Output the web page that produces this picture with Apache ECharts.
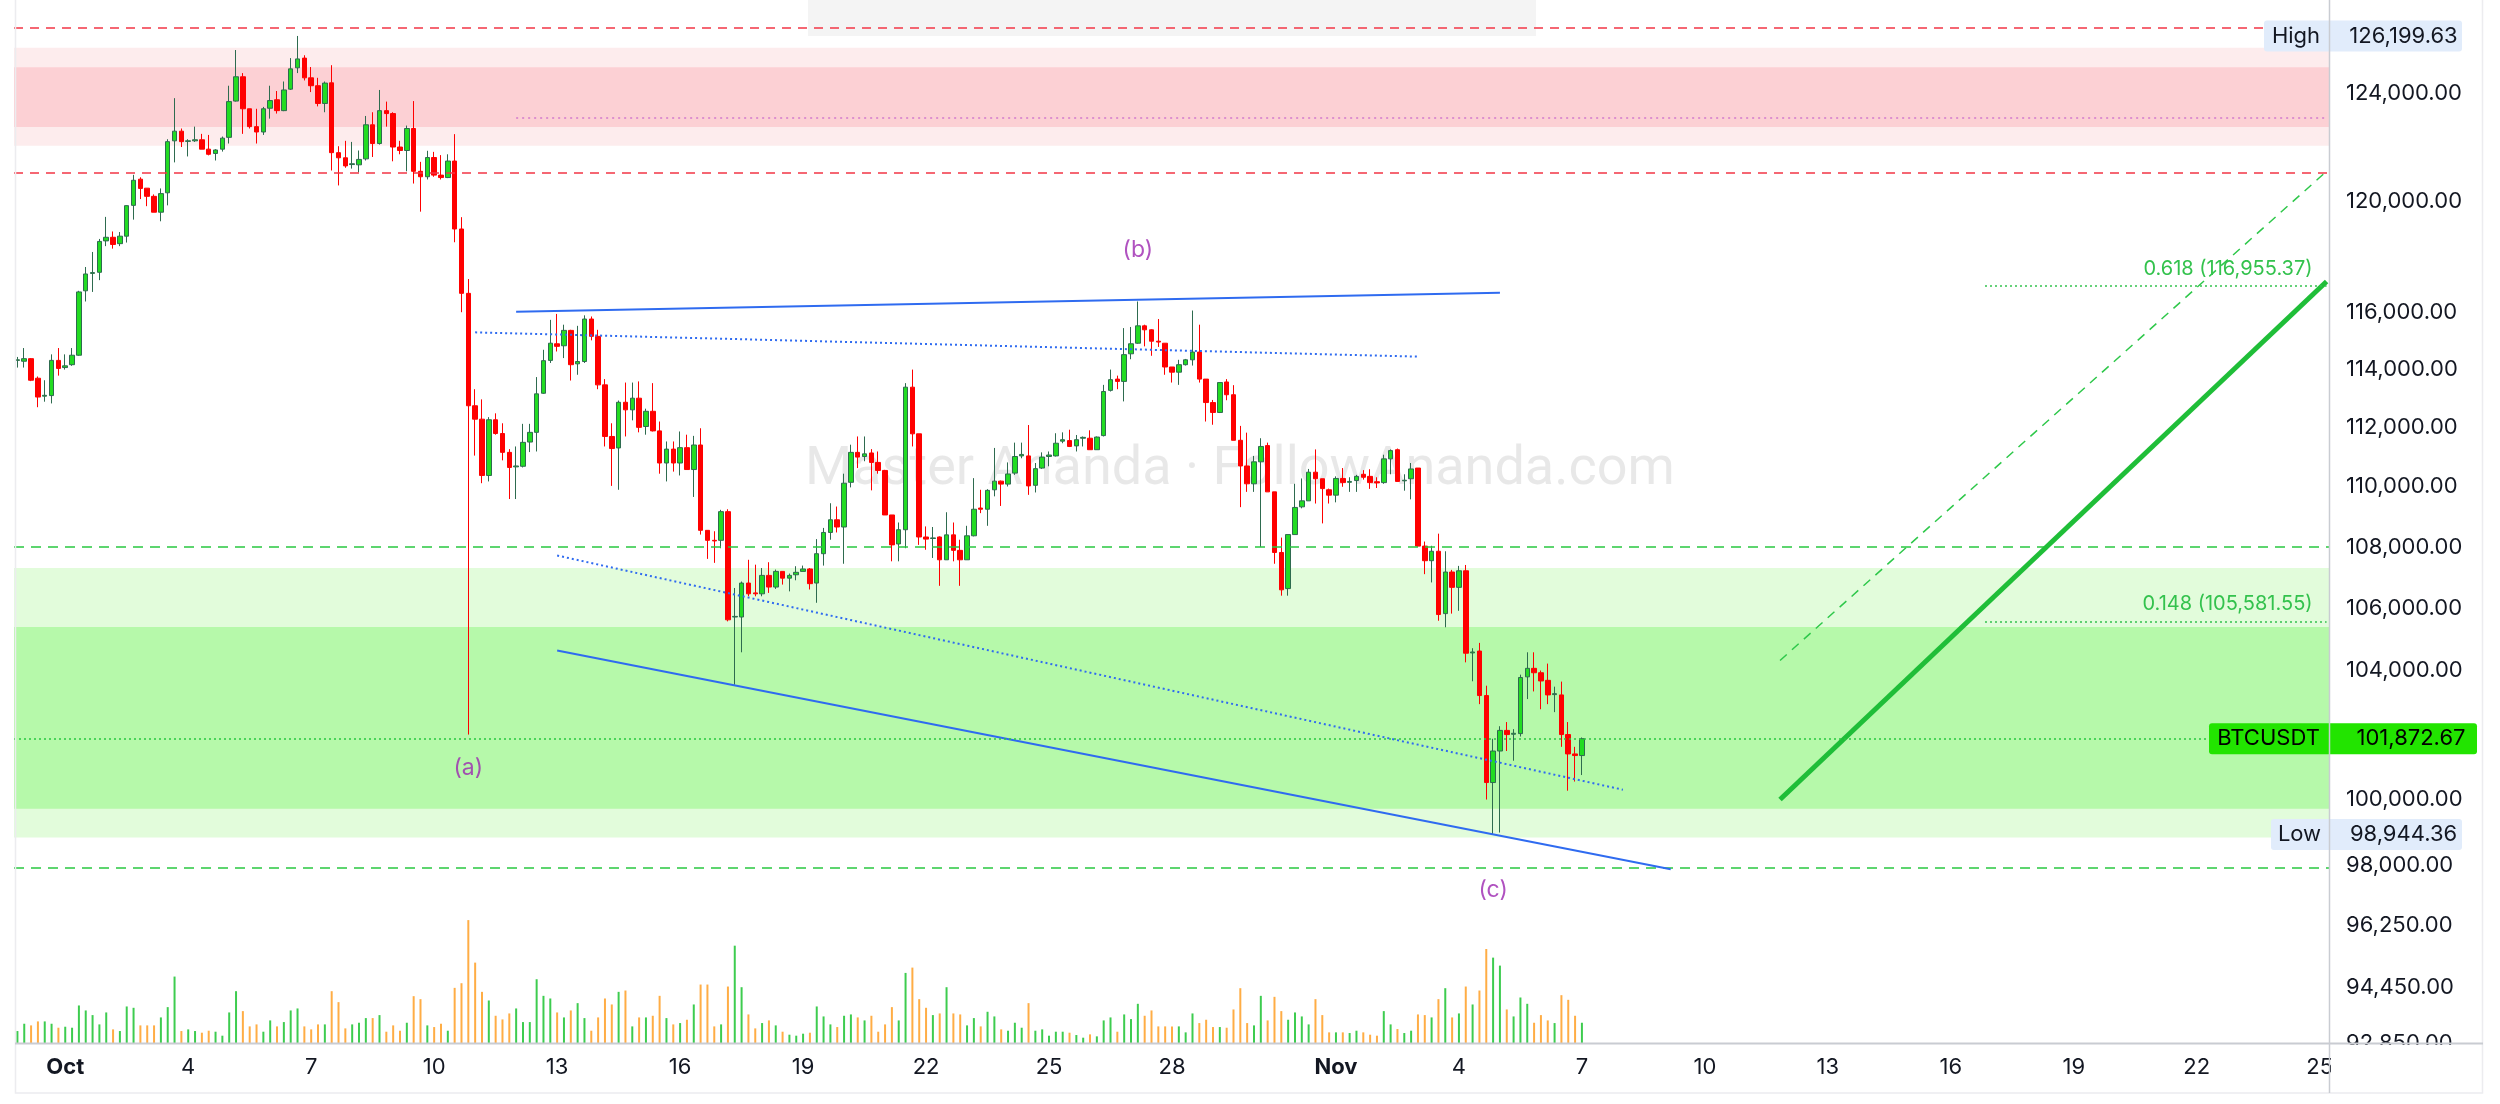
<!DOCTYPE html>
<html><head><meta charset="utf-8">
<script src="https://cdn.jsdelivr.net/npm/echarts@6/dist/echarts.min.js"></script>
<style>html,body{margin:0;padding:0;background:#fff}#c{width:2500px;height:1104px}</style>
</head><body><div id="c"></div>
<script>
// ---- time slots (4h candles), Sep 29 20:00 UTC .. Nov 25 ----
const startTime = Date.UTC(2025, 8, 29, 20);
const slotCount = 339;
function pad(n){return (n<10?'0':'')+n;}
const categories = [];
for (let i = 0; i < slotCount; i++) {
  const d = new Date(startTime + i * 4 * 3600e3);
  categories.push(pad(d.getUTCMonth()+1) + '-' + pad(d.getUTCDate()) + ' ' + pad(d.getUTCHours()));
}
const xTickDays = ['10-01','10-04','10-07','10-10','10-13','10-16','10-19','10-22','10-25','10-28',
  '11-01','11-04','11-07','11-10','11-13','11-16','11-19','11-22','11-25'];
const monthNames = {'10':'Oct','11':'Nov'};
const yTickValues = [124000,120000,116000,114000,112000,110000,108000,106000,104000,100000,98000,96250,94450,92850];

// ---- BTCUSDT 4h candles: [open, high, low, close] ----
const candles = [
[114320,114440,114070,114340],[114290,114750,114070,114380],[114380,114400,113600,113630],[113700,113760,112700,113050],
[113080,113630,112890,113110],[113100,114530,112830,114320],[114320,114750,113790,114040],[114070,114530,114000,114130],
[114170,114750,114130,114500],[114500,116770,114480,116730],[116770,117620,116390,117370],[117390,118160,116730,117420],
[117430,118630,117150,118540],[118560,119430,118370,118690],[118690,118900,118280,118430],[118460,118880,118370,118730],
[118730,119850,118500,119840],[119850,120970,119330,120770],[120810,120880,120080,120470],[120480,120480,119820,120180],
[120180,120250,119600,119600],[119600,120470,119270,120280],[120310,122290,119850,122200],[122230,123830,121430,122590],
[122590,122690,122000,122200],[122210,122290,121650,122230],[122230,122760,122190,122270],[122270,122490,121920,121920],
[121920,122450,121690,121730],[121760,121920,121500,121890],[121920,122390,121830,122330],[122360,124300,122130,123700],
[123720,125660,123700,124640],[124640,124780,122490,123430],[123430,123430,122690,122760],[122760,123430,122130,122560],
[122560,123500,122450,123430],[123450,124300,123060,123740],[123770,124100,123250,123360],[123360,124460,123340,124140],
[124170,125350,124140,124940],[124980,126199.63,124780,125320],[125350,125460,124500,124600],[124600,125010,124060,124300],
[124300,124600,123520,123630],[123630,124460,123300,124400],[124410,125080,121130,121790],[121790,122030,120580,121600],
[121600,122230,121230,121300],[121350,122190,121200,121380],[121340,121870,121060,121540],[121560,123160,121500,122830],
[122830,123300,121630,122130],[122130,124140,122090,123360],[123360,123700,122760,123250],[123250,123300,121470,122000],
[122000,122230,121730,121870],[121870,122800,121100,122690],[122690,123720,120650,121100],[121100,121450,119620,120900],
[120900,121860,120800,121610],[121610,121820,120900,120960],[120960,121700,120800,120870],[120870,121730,120850,121480],
[121480,122480,118510,118990],[118990,119420,116010,116680],[116680,117190,102000,112750],[112750,113320,111050,112290],
[112290,112970,110120,110380],[110380,112360,110180,112270],[112270,112490,111760,111800],[111800,112150,110890,111160],
[111160,111270,109590,110650],[110670,111360,109590,110700],[110690,112130,110650,111500],[111510,112130,111170,111840],
[111840,113740,111190,113160],[113180,114690,113160,114310],[114320,115740,114230,114920],[114900,115950,114630,114810],
[114830,115570,114400,115370],[115370,115390,113620,114170],[114200,115530,113820,114280],[114280,115900,114230,115770],
[115770,115860,115020,115160],[115160,115390,113320,113470],[113470,113670,111360,111700],[111700,112150,110030,111290],
[111310,112930,109900,112870],[112870,113550,111700,112610],[112610,113550,112250,113010],[113010,113590,111840,112010],
[112040,112650,111760,112560],[112560,113530,111870,111890],[111890,112210,110440,110800],[110800,111530,110180,111270],
[111270,111530,110510,110800],[110800,111870,110380,111320],[111320,111760,110580,110580],[110580,111720,109660,111410],
[111410,111980,108410,108550],[108550,108550,107610,108220],[108220,108520,107480,108200],[108220,109230,107960,109170],
[109170,109250,105580,105630],[105720,106660,103560,105740],[105720,106870,104590,106820],[106820,107580,106390,106470],
[106500,107420,106390,106470],[106470,107310,106390,107070],[107070,107500,106500,106690],[106690,107260,106630,107200],
[107200,107200,106770,106980],[106980,107130,106550,107070],[107090,107370,106910,107170],[107200,107390,107200,107280],
[107280,107310,106610,106800],[106820,108260,106180,107780],[107780,108630,107390,108480],[108480,109450,108240,108900],
[108900,109340,108480,108660],[108660,110440,107450,110120],[110150,111420,109980,111160],[111160,111700,110630,111000],
[111020,111700,110860,111110],[111140,111270,109880,110820],[110820,111190,110440,110550],[110550,110570,109060,109060],
[109060,109060,107530,108070],[108100,108810,107530,108570],[108570,113530,107960,113390],[113390,114000,111360,111790],
[111790,111790,108070,108330],[108330,108680,107910,108260],[108280,108660,107640,108300],[108330,108350,106730,107580],
[107580,109150,107580,108400],[108400,108810,107530,107890],[107890,108240,106730,107580],[107580,108700,107580,108370],
[108370,110290,108350,109250],[109290,109900,109120,109250],[109250,109920,108700,109880],[109900,111310,109680,110190],
[110190,110210,109360,110090],[110090,110820,110010,110430],[110460,111490,110400,111020],[111040,111490,110960,111090],
[111040,112090,109730,110030],[110050,110800,109810,110610],[110630,111160,110600,111000],[111020,111190,110690,111070],
[111040,111810,111020,111470],[111540,111840,111470,111590],[111560,111930,111340,111360],[111380,111750,111190,111590],
[111640,111700,111360,111670],[111640,111910,111250,111250],[111250,111700,111250,111680],[111730,113470,111700,113240],
[113280,114000,113240,113650],[113670,113790,113320,113590],[113590,115450,112900,114520],[114550,115490,114360,114900],
[114920,116390,114900,115530],[115530,115570,114810,115390],[115390,115410,114480,114990],[114990,115770,114790,114960],
[114920,114920,113820,114090],[114090,114090,113550,113910],[113910,114340,113470,114170],[114170,114370,114140,114340],
[114340,116070,114140,114610],[114610,115570,113550,113670],[113670,113670,112210,112860],[112860,112950,112100,112520],
[112520,113550,112500,113550],[113570,113670,112940,113130],[113130,113460,111570,111570],[111570,112060,109320,110700],
[110700,111830,109830,110100],[110100,111040,109830,110840],[110840,111640,108000,111360],[111390,111490,109830,109830],
[109830,109830,107450,107820],[107820,108310,106410,106600],[106640,108410,106410,108410],[108410,110100,108410,109310],
[109330,110280,109280,109530],[109530,110600,109530,110490],[110490,111260,109440,110270],[110270,110270,108780,109940],
[109900,109940,109440,109720],[109720,110350,109480,110280],[110280,110630,110000,110140],[110150,110320,109830,110180],
[110210,110400,109830,110350],[110420,110560,110240,110320],[110350,110590,109930,110140],[110170,110320,109960,110130],
[110140,111080,110100,110940],[110940,111260,110420,111220],[111250,111290,110180,110180],[110200,110420,109870,110220],
[110270,110800,109580,110600],[110630,110630,108000,108030],[108030,108180,107110,107550],[107550,108040,106840,107860],
[107860,108440,105600,105800],[105830,107860,105390,107180],[107180,107250,105830,106680],[106680,107380,105920,107220],
[107220,107410,104270,104560],[104570,104720,103670,104600],[104630,104890,102950,103220],[103220,103530,100000,100520],
[100520,101870,98944.36,101490],[101490,102260,99000,102130],[102130,102390,101490,102000],[102010,102170,101190,102040],
[102030,103880,101940,103790],[103810,104590,103110,104080],[104080,104590,103350,103940],[103940,104010,102790,103680],
[103700,104230,102950,103240],[103250,103500,102700,103280],[103240,103660,101620,102000],[102000,102390,100270,101400],
[101400,101620,100550,101350],[101350,101910,100750,101872.67]
];

// ---- volume per candle (relative units) ----
const volumes = [
36,58,53,65,65,58,46,49,46,113, 98,84,56,92,41,36,110,106,53,53,
53,77,108,200,36,41,36,31,37,34, 22,92,156,96,50,56,34,68,50,63,
98,104,50,41,56,56,156,123,44,56, 61,75,75,84,34,53,37,61,141,132,
53,48,58,37,166,180,370,242,154,128, 82,71,89,104,63,63,192,142,134,92,
77,98,120,75,37,77,134,116,154,158, 50,77,77,82,142,75,56,60,70,116,
176,176,50,56,170,293,168,86,44,60, 68,53,34,25,22,
28,31,110,80,56,48,82,86,77,68, 82,34,56,108,68,211,227,132,106,84,
89,168,89,86,53,75,50,94,80,41, 37,61,46,120,37,41,22,34,34,31,
24,16,26,20,68,77,34,86,72,118, 82,98,50,50,50,50,32,89,60,70,
48,48,46,101,165,60,53,142,68,139, 96,70,92,80,56,132,84,32,32,32,
30,37,32,25,22,96,56,42,30,37, 86,84,77,132,165,77,89,170,116,158,
283,257,233,101,80,137,118,61,84,68, 60,144,130,82,61
];

// ---- annotation values ----
const redZone = {outer:[122050,125750], inner:[122750,125000]};
const greenZone = {outer:[98850,107310], inner:[99720,105400]};
const redLevels = [126500, 121050];
const greenLevels = [108000, 97950];
const pinkDotLevel = {from:73, to:338, value:123100};
const lastPrice = 101872.67, highPrice = 126199.63, lowPrice = 98944.36;
const blueSolid = [[[73,116030],[217,116700]], [[79,104650],[242,97900]]];
const blueDotted = [[[67,115300],[205,114450]], [[79,107720],[235,100300]]];
const projThick = [[258,100000],[338,117100]];
const projDashed = [[258,104330],[338,121100]];
const fibLevels = [{from:288,to:338,value:116955.37,text:'0.618 (116,955.37)'},{from:288,to:338,value:105581.55,text:'0.148 (105,581.55)'}];
const waveLabels = [{name:'(a)',value:[66,100970]},{name:'(b)',value:[164,118230]},{name:'(c)',value:[216,97280]}];

const FONT = 'Inter';
const fmtPrice = v => v.toLocaleString('en-US',{minimumFractionDigits:2,maximumFractionDigits:2});
const UP = '#22dc22', UP_EDGE = '#2e6b4f', DOWN = '#ff0000';
const VOL_UP = '#3dcc4f', VOL_DOWN = '#ffad45';
const BLUE = '#2f6bf0', RED = '#f23645', GREEN = '#28c840';

const tickSet = new Set(xTickDays.map(d => d + ' 00'));

const markLines = [];
redLevels.forEach(v => markLines.push({yAxis:v, lineStyle:{color:RED, width:1.5, type:[9,7]}}));
greenLevels.forEach(v => markLines.push({yAxis:v, lineStyle:{color:GREEN, width:1.5, type:[10,7]}}));
markLines.push([{coord:[pinkDotLevel.from,pinkDotLevel.value], lineStyle:{color:'#dd8fcf', width:2, type:[2,4]}},{coord:[pinkDotLevel.to,pinkDotLevel.value]}]);
blueSolid.forEach(s => markLines.push([{coord:s[0], lineStyle:{color:BLUE, width:2, type:'solid'}},{coord:s[1]}]));
blueDotted.forEach(s => markLines.push([{coord:s[0], lineStyle:{color:BLUE, width:2, type:[2,3]}},{coord:s[1]}]));
markLines.push([{coord:projThick[0], lineStyle:{color:'#1fbe38', width:5, type:'solid'}},{coord:projThick[1]}]);
markLines.push([{coord:projDashed[0], lineStyle:{color:'#2ec84a', width:1.5, type:[9,7]}},{coord:projDashed[1]}]);
fibLevels.forEach(f => markLines.push([{coord:[f.from,f.value], lineStyle:{color:'#33c24d', width:1.5, type:[2,3]},
  label:{show:true, position:'insideEndTop', formatter:f.text, color:'#33c24d', fontSize:20, fontFamily:FONT, distance:[14,7]}},{coord:[f.to,f.value]}]));
function tag(value, name, nameW, bg, lineStyle){
  return {yAxis:value, lineStyle:lineStyle,
    label:{show:true, position:'end', distance:-nameW-2, formatter:'{n|'+name+'}{v|'+fmtPrice(value)+'}',
      backgroundColor:bg, borderRadius:3, padding:0,
      rich:{n:{width:nameW, align:'center', fontSize:22, fontFamily:FONT, color:'#131722', lineHeight:31, height:31},
            v:{width:117, align:'left', padding:[0,0,0,17], fontSize:22, fontFamily:FONT, color:'#131722', lineHeight:31, height:31}}}};
}
const hidden = {color:'rgba(255,255,255,0)', width:0.01, type:'solid'};
markLines.push(tag(highPrice,'High',64,'#e1ecfb',hidden));
markLines.push(tag(lowPrice,'Low',57,'#e1ecfb',hidden));
const btcTag = tag(lastPrice,'BTCUSDT',119,'#22e400',{color:GREEN, width:1.5, type:[2,3]});
btcTag.label.rich.v.width = 132; btcTag.label.rich.n.color = '#000'; btcTag.label.rich.v.color = '#000';
markLines.push(btcTag);

const option = {
  animation:false,
  backgroundColor:'#ffffff',
  grid:{left:14, right:170, top:0, bottom:61, containLabel:false, outerBoundsMode:'none'},
  xAxis:{type:'category', data:categories, boundaryGap:true,
    axisLine:{show:false}, axisTick:{show:false}, splitLine:{show:false},
    axisLabel:{interval:(i,v)=>tickSet.has(v), margin:13, fontSize:22, fontFamily:FONT, color:'#131722',
      formatter:v=>{const m=v.slice(0,2), d=v.slice(3,5); return d==='01' ? '{m|'+monthNames[m]+'}' : String(parseInt(d,10));},
      rich:{m:{fontWeight:'bold', fontSize:22, fontFamily:FONT, color:'#131722'}}}},
  yAxis:[
    {type:'log', logBase:10, min:92850, max:127590, position:'right', scale:true,
     axisLine:{show:false}, axisTick:{show:false}, splitLine:{show:false},
     axisLabel:{customValues:yTickValues, formatter:v=>fmtPrice(v), fontSize:22, fontFamily:FONT, color:'#131722', margin:16}},
    {type:'value', min:0, max:3140, show:false, splitLine:{show:false}}
  ],
  series:[
    {type:'bar', yAxisIndex:1, barWidth:2, z:1, silent:true,
     data:volumes.map((v,i)=>({value:v, itemStyle:{color: candles[i][3] >= candles[i][0] ? VOL_UP : VOL_DOWN}}))},
    {type:'candlestick', yAxisIndex:0, barWidth:5, z:3, silent:true,
     data:candles.map(r=>[r[0], r[3], r[2], r[1]]),
     itemStyle:{color:UP, color0:DOWN, borderColor:UP_EDGE, borderColor0:DOWN, borderWidth:1},
     markArea:{silent:true, z:1, data:[
       [{yAxis:redZone.outer[0], itemStyle:{color:'#fdeced'}},{yAxis:redZone.outer[1]}],
       [{yAxis:redZone.inner[0], itemStyle:{color:'#fcd0d4'}},{yAxis:redZone.inner[1]}],
       [{yAxis:greenZone.outer[0], itemStyle:{color:'#e2fcdb'}},{yAxis:greenZone.outer[1]}],
       [{yAxis:greenZone.inner[0], itemStyle:{color:'#b6f9aa'}},{yAxis:greenZone.inner[1]}]
     ]},
     markLine:{silent:true, symbol:['none','none'], z:6, label:{show:false}, data:markLines}},
    {type:'scatter', yAxisIndex:0, symbolSize:0, z:7, silent:true, data:waveLabels,
     label:{show:true, position:'inside', formatter:p=>p.name, color:'#9c27b0', fontSize:23, fontFamily:FONT}}
  ],
  graphic:[
    {type:'rect', z:-1, shape:{x:808,y:0,width:728,height:36}, style:{fill:'#f4f4f4'}},
    {type:'text', z:0, x:1240, y:470, style:{text:'Master Ananda · FollowAnanda.com', fontSize:54, fontFamily:'Roboto',
      fill:'rgba(120,120,120,0.17)', align:'center', verticalAlign:'middle', textAlign:'center', textVerticalAlign:'middle'}},
    {type:'rect', z:100, shape:{x:2331,y:1045,width:151,height:47}, style:{fill:'#ffffff'}},
    {type:'rect', z:101, shape:{x:15.5,y:-1,width:2467,height:1094}, style:{fill:'none', stroke:'#ececef', lineWidth:1.5}},
    {type:'line', z:101, shape:{x1:15,y1:1043.5,x2:2483,y2:1043.5}, style:{stroke:'#c9ccd2', lineWidth:2}},
    {type:'line', z:101, shape:{x1:2329.5,y1:0,x2:2329.5,y2:1093}, style:{stroke:'#c9ccd2', lineWidth:1.5}}
  ]
};
const chart = echarts.init(document.getElementById('c'), null, {renderer:'canvas'});
chart.setOption(option);
</script></body></html>
